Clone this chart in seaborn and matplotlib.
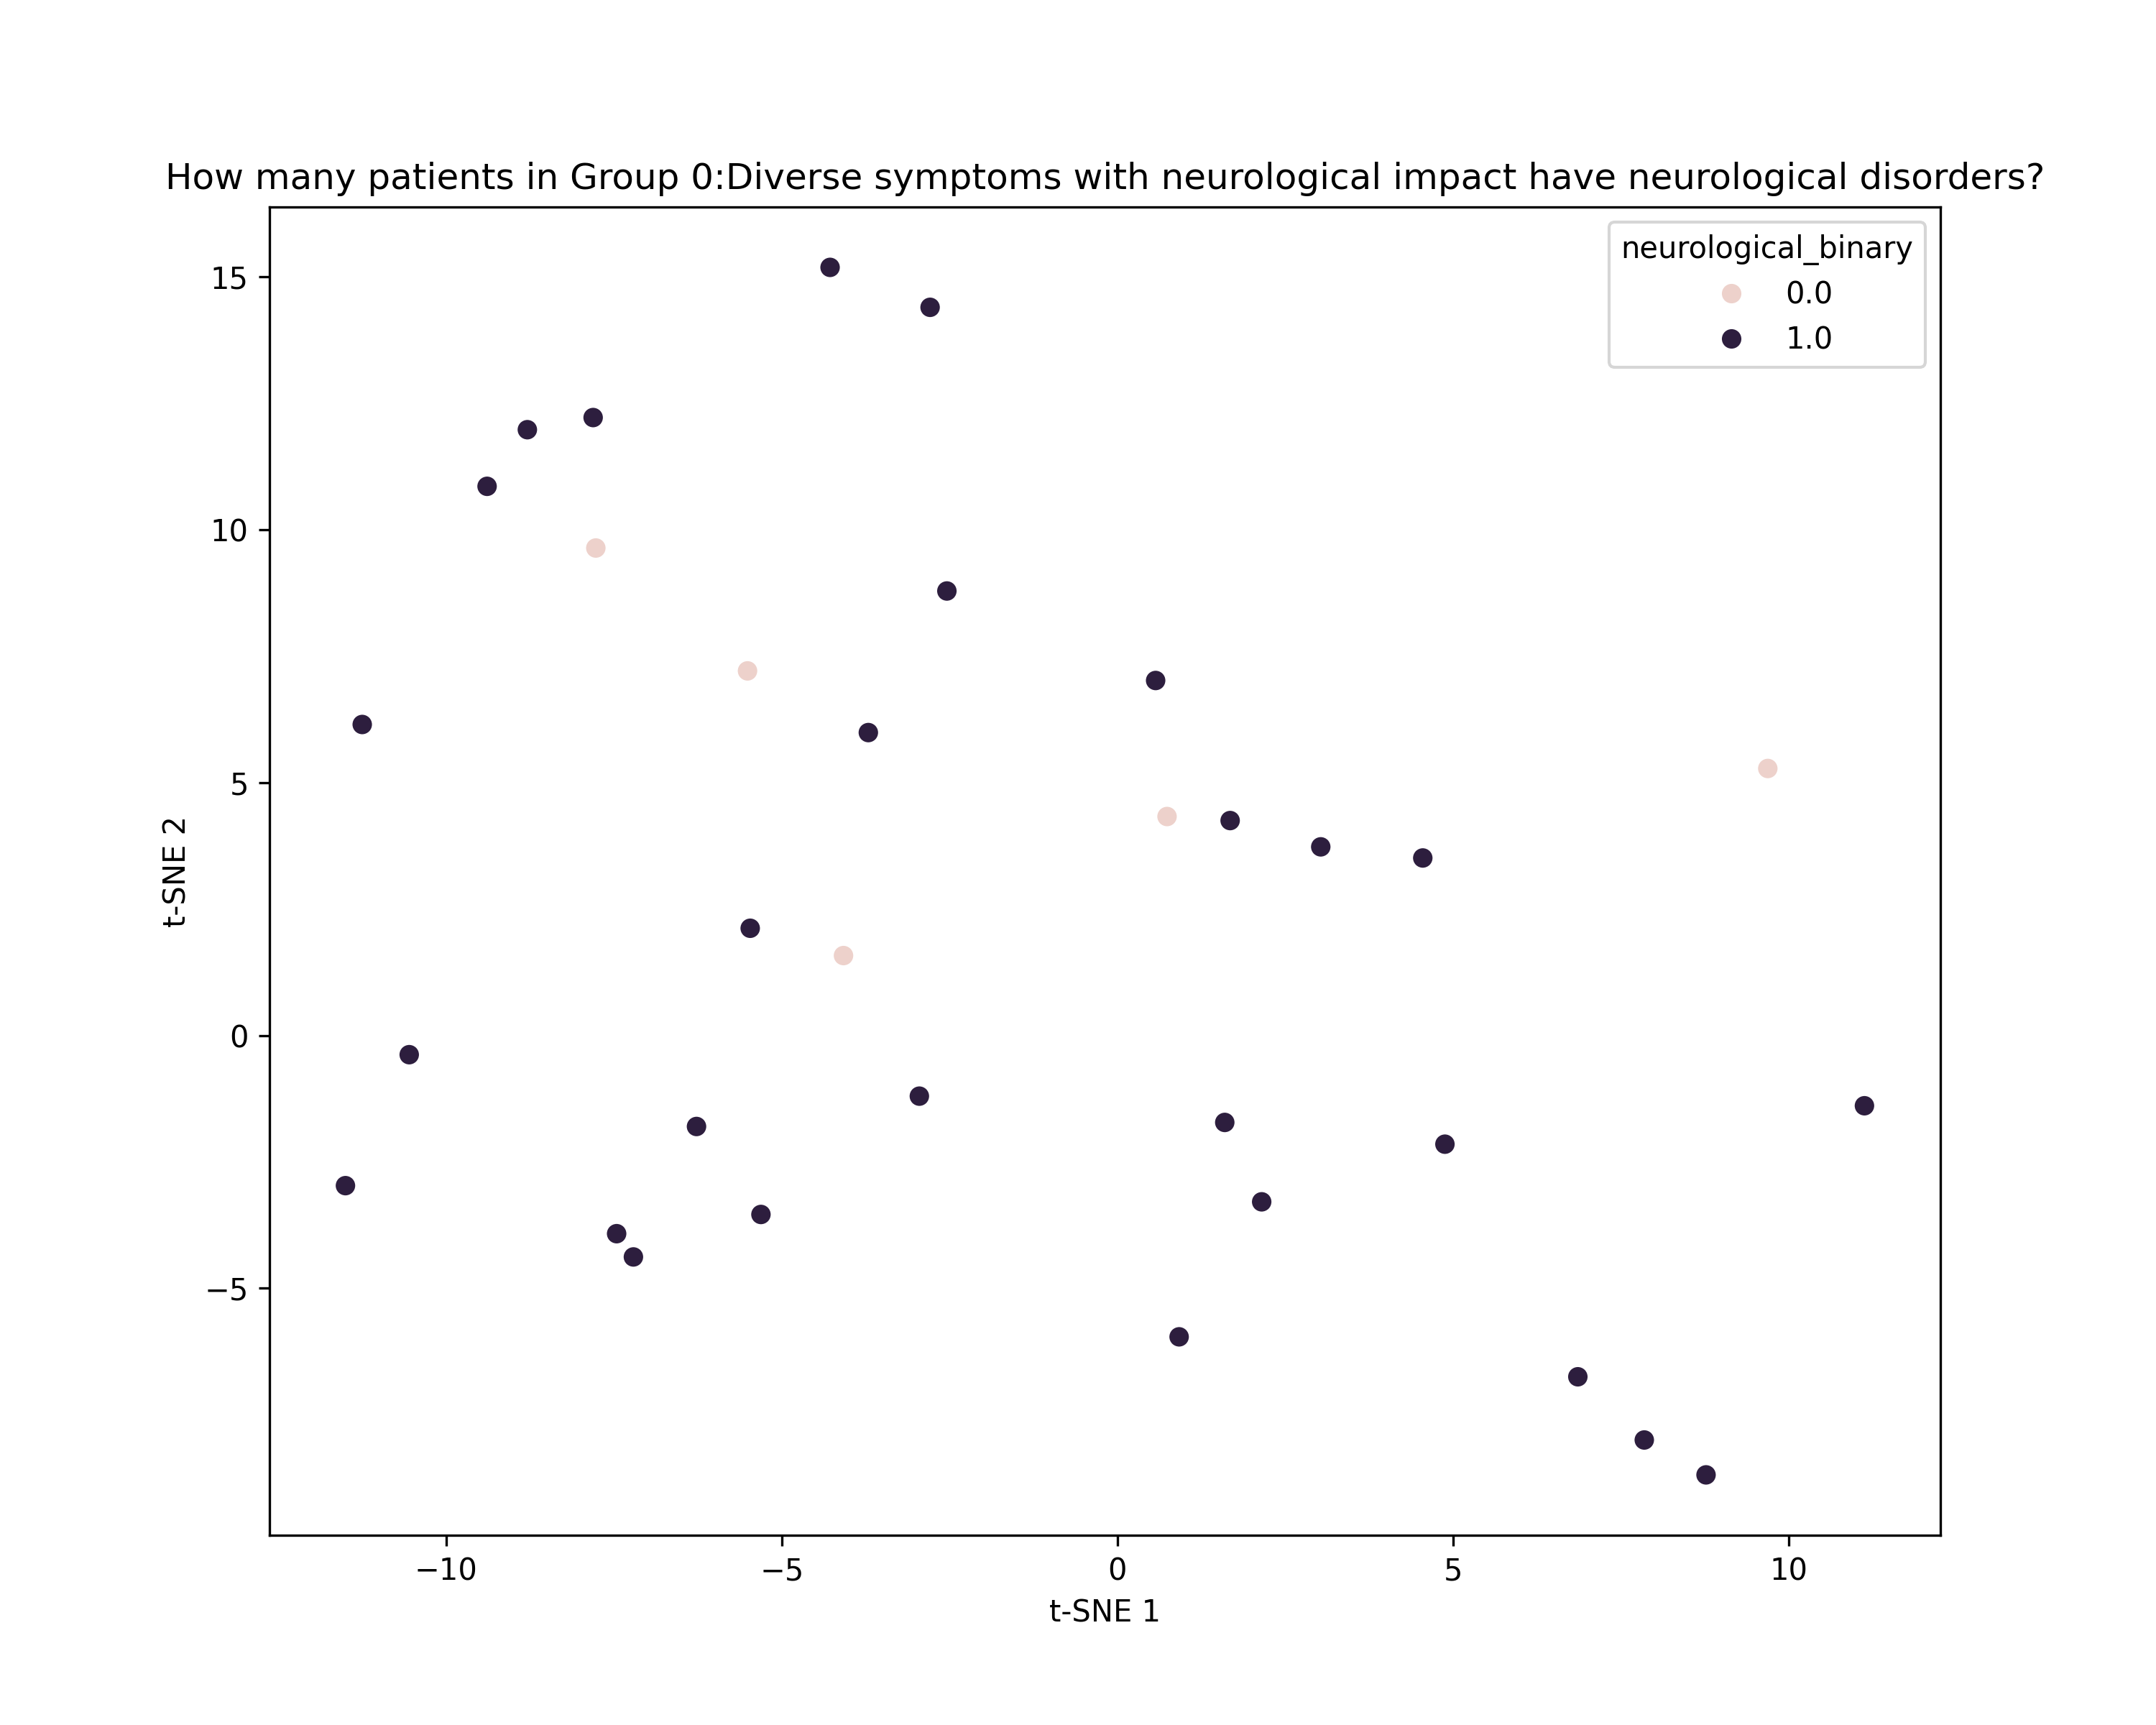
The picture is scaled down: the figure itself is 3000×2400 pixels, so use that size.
import matplotlib
matplotlib.use("Agg")
import matplotlib.pyplot as plt
import seaborn as sns
import pandas as pd

tsne1 = [-4.28, -2.79, -7.81, -8.79, -9.39, -7.77, -2.54, -5.51, 0.57, -11.25,
         -3.71, 9.69, 0.74, 1.68, 3.03, 4.55, -5.47, -4.08, -10.55, -2.95,
         -6.27, 1.60, 11.13, 4.88, -11.50, 2.15, -5.31, -7.46, -7.21, 0.92,
         6.86, 7.85, 8.77]
tsne2 = [15.19, 14.40, 12.22, 11.98, 10.86, 9.64, 8.79, 7.21, 7.02, 6.15,
         5.99, 5.28, 4.33, 4.25, 3.73, 3.51, 2.12, 1.58, -0.38, -1.20,
         -1.80, -1.72, -1.39, -2.15, -2.97, -3.29, -3.54, -3.92, -4.38, -5.96,
         -6.75, -8.00, -8.69]
neuro = [1, 1, 1, 1, 1, 0, 1, 0, 1, 1,
         1, 0, 0, 1, 1, 1, 1, 0, 1, 1,
         1, 1, 1, 1, 1, 1, 1, 1, 1, 1,
         1, 1, 1]

df = pd.DataFrame({"t-SNE 1": tsne1, "t-SNE 2": tsne2,
                   "neurological_binary": [float(v) for v in neuro]})

cmap = sns.cubehelix_palette(as_cmap=True)
palette = {0.0: cmap(0.0), 1.0: cmap(1.0)}

fig, ax = plt.subplots(figsize=(10, 8), dpi=300)
sns.scatterplot(data=df, x="t-SNE 1", y="t-SNE 2", hue="neurological_binary",
                palette=palette, s=50, ax=ax)
ax.set_title("How many patients in Group 0:Diverse symptoms with neurological impact have neurological disorders?")
fig.savefig("out.png", dpi=300)
